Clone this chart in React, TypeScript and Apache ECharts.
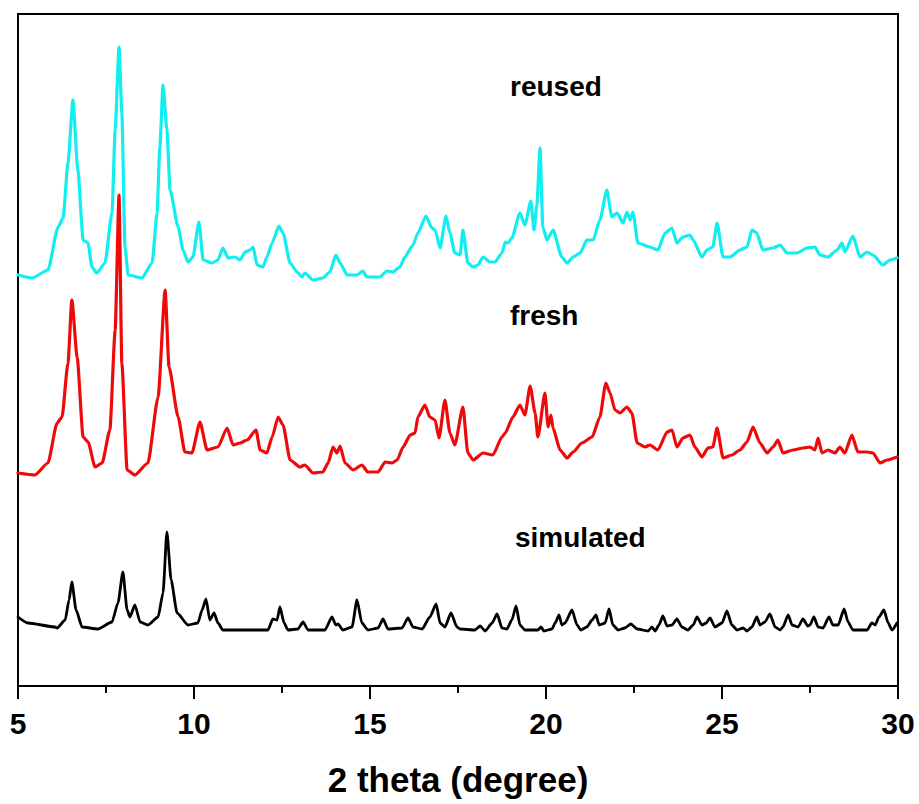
import React, { useEffect, useRef } from "react";
import * as echarts from "echarts";

// 2θ (degree) and intensity (a.u.)
const reusedData: [number, number][] = [
  [5.0, 411], [5.4, 408], [5.85, 416], [6.14, 459], [6.28, 468], [6.42, 523], [6.56, 586], [6.7, 516],
  [6.85, 446], [6.99, 443], [7.1, 419], [7.24, 413], [7.47, 423], [7.67, 473], [7.76, 556], [7.87, 639],
  [7.95, 573], [8.04, 439], [8.13, 411], [8.52, 408], [8.81, 423], [8.95, 473], [9.03, 539], [9.12, 601],
  [9.23, 556], [9.32, 496], [9.55, 459], [9.69, 436], [9.83, 424], [9.97, 429], [10.14, 464], [10.26, 426],
  [10.51, 423], [10.68, 426], [10.82, 438], [10.97, 428], [11.16, 429], [11.31, 426], [11.45, 434], [11.59, 436],
  [11.68, 439], [11.79, 421], [11.96, 419], [12.07, 429], [12.22, 443], [12.41, 460], [12.53, 453], [12.73, 423],
  [12.93, 414], [13.07, 409], [13.15, 413], [13.38, 406], [13.66, 408], [13.86, 414], [14.03, 431], [14.15, 423],
  [14.35, 411], [14.63, 411], [14.8, 415], [14.91, 409], [15.28, 409], [15.48, 415], [15.65, 414], [15.85, 419],
  [15.99, 429], [16.22, 441], [16.36, 453], [16.59, 470], [16.76, 458], [16.85, 456], [16.99, 438], [17.16, 470],
  [17.27, 453], [17.41, 433], [17.56, 431], [17.64, 456], [17.78, 423], [17.93, 419], [18.07, 421], [18.21, 429],
  [18.41, 424], [18.55, 424], [18.75, 433], [18.84, 444], [18.92, 443], [19.03, 448], [19.26, 473], [19.4, 461],
  [19.57, 485], [19.66, 456], [19.74, 481], [19.83, 538], [19.91, 459], [20.03, 446], [20.2, 456], [20.45, 429],
  [20.6, 423], [20.77, 429], [20.97, 433], [21.16, 446], [21.34, 446], [21.53, 466], [21.73, 496], [21.87, 469],
  [22.02, 473], [22.19, 463], [22.3, 474], [22.39, 466], [22.47, 474], [22.61, 443], [22.95, 439], [23.18, 436],
  [23.38, 453], [23.58, 458], [23.72, 443], [23.89, 449], [24.09, 451], [24.18, 446], [24.43, 429], [24.57, 436],
  [24.74, 439], [24.86, 463], [25.03, 429], [25.23, 429], [25.51, 436], [25.71, 439], [25.85, 456], [25.99, 453],
  [26.16, 436], [26.45, 438], [26.65, 441], [26.85, 433], [27.13, 433], [27.41, 438], [27.64, 439], [27.78, 431],
  [28.01, 429], [28.27, 436], [28.41, 443], [28.49, 434], [28.72, 450], [28.92, 429], [29.12, 434], [29.29, 431],
  [29.57, 421], [29.77, 426], [29.97, 428],
];

const freshData: [number, number][] = [
  [5.0, 213], [5.48, 211], [5.85, 223], [6.11, 263], [6.25, 269], [6.42, 323], [6.53, 386], [6.68, 329],
  [6.85, 249], [6.99, 244], [7.19, 219], [7.39, 223], [7.61, 256], [7.76, 356], [7.87, 491], [7.95, 323],
  [8.1, 216], [8.32, 211], [8.69, 223], [8.98, 289], [9.18, 396], [9.29, 319], [9.55, 269], [9.74, 234],
  [9.94, 233], [10.17, 264], [10.37, 236], [10.68, 239], [10.94, 258], [11.11, 241], [11.31, 243], [11.51, 246],
  [11.76, 256], [11.88, 236], [12.07, 233], [12.22, 249], [12.39, 269], [12.53, 261], [12.73, 226], [13.01, 219],
  [13.15, 221], [13.38, 213], [13.66, 214], [13.81, 223], [13.95, 239], [14.06, 233], [14.15, 240], [14.29, 223],
  [14.52, 216], [14.77, 221], [14.94, 214], [15.23, 214], [15.43, 224], [15.63, 223], [15.77, 226], [15.94, 239],
  [16.14, 251], [16.28, 253], [16.36, 269], [16.56, 281], [16.7, 269], [16.85, 266], [16.96, 248], [17.13, 286],
  [17.27, 253], [17.41, 241], [17.64, 279], [17.78, 233], [17.93, 226], [18.21, 233], [18.49, 231], [18.75, 249],
  [18.84, 253], [19.06, 269], [19.26, 281], [19.4, 271], [19.55, 300], [19.69, 273], [19.77, 249], [19.97, 293],
  [20.06, 259], [20.14, 271], [20.2, 258], [20.4, 236], [20.6, 228], [20.77, 234], [21.02, 243], [21.31, 249],
  [21.53, 269], [21.7, 303], [21.82, 293], [21.96, 276], [22.1, 273], [22.3, 279], [22.44, 273], [22.59, 243],
  [22.81, 239], [22.95, 241], [23.18, 236], [23.44, 254], [23.58, 256], [23.72, 239], [23.89, 248], [24.09, 251],
  [24.23, 239], [24.43, 229], [24.6, 238], [24.74, 239], [24.86, 258], [25.03, 228], [25.28, 231], [25.51, 236],
  [25.71, 244], [25.88, 259], [26.08, 243], [26.28, 233], [26.45, 239], [26.59, 246], [26.73, 233], [27.02, 236],
  [27.3, 238], [27.5, 239], [27.64, 236], [27.73, 248], [27.84, 233], [28.01, 236], [28.21, 233], [28.35, 239],
  [28.49, 233], [28.69, 251], [28.86, 234], [29.12, 234], [29.29, 233], [29.49, 223], [29.69, 226], [29.97, 229],
];

const simulatedData: [number, number][] = [
  [5.0, 69], [5.28, 63], [6.05, 59], [6.11, 58], [6.34, 66], [6.45, 86], [6.53, 104], [6.65, 76],
  [6.82, 59], [7.27, 57], [7.67, 64], [7.84, 83], [7.98, 114], [8.1, 76], [8.18, 69], [8.32, 81],
  [8.47, 64], [8.69, 61], [8.98, 69], [9.12, 93], [9.23, 154], [9.35, 106], [9.52, 73], [9.83, 61],
  [10.11, 63], [10.23, 76], [10.34, 87], [10.45, 66], [10.57, 73], [10.68, 63], [10.82, 56], [12.1, 56],
  [12.24, 67], [12.36, 66], [12.44, 79], [12.56, 63], [12.67, 56], [12.95, 57], [13.1, 64], [13.24, 56],
  [13.72, 56], [13.92, 69], [14.03, 61], [14.09, 62], [14.23, 56], [14.49, 59], [14.63, 86], [14.77, 63],
  [14.94, 56], [15.23, 58], [15.37, 67], [15.51, 57], [15.91, 58], [16.08, 68], [16.22, 59], [16.48, 57],
  [16.7, 69], [16.88, 82], [16.99, 63], [17.13, 59], [17.3, 73], [17.47, 59], [17.56, 57], [17.98, 56],
  [18.13, 60], [18.27, 55], [18.47, 63], [18.61, 72], [18.75, 58], [18.89, 57], [19.03, 66], [19.15, 80],
  [19.26, 61], [19.4, 56], [19.77, 56], [19.86, 59], [19.94, 55], [20.17, 57], [20.26, 63], [20.37, 71],
  [20.45, 61], [20.54, 63], [20.74, 76], [20.88, 61], [20.99, 56], [21.16, 59], [21.31, 66], [21.42, 71],
  [21.51, 61], [21.68, 63], [21.79, 77], [21.9, 61], [22.05, 56], [22.24, 58], [22.41, 62], [22.59, 57],
  [22.9, 55], [23.01, 59], [23.1, 55], [23.21, 61], [23.32, 70], [23.44, 60], [23.58, 61], [23.72, 67],
  [23.86, 59], [24.03, 56], [24.18, 61], [24.29, 69], [24.43, 61], [24.55, 63], [24.66, 68], [24.8, 59],
  [25.0, 63], [25.14, 75], [25.28, 61], [25.43, 56], [25.6, 58], [25.71, 55], [25.85, 59], [25.99, 69],
  [26.08, 61], [26.22, 64], [26.36, 72], [26.51, 59], [26.65, 56], [26.73, 59], [26.88, 71], [26.99, 61],
  [27.16, 59], [27.3, 67], [27.44, 60], [27.5, 61], [27.61, 69], [27.73, 59], [27.87, 58], [28.04, 69],
  [28.15, 61], [28.3, 61], [28.47, 77], [28.58, 64], [28.72, 56], [29.12, 56], [29.26, 63], [29.35, 61],
  [29.46, 69], [29.6, 76], [29.72, 63], [29.83, 56], [29.97, 63],
];

const seriesNames = ["reused", "fresh", "simulated"];
const xTicks = [5, 10, 15, 20, 25, 30];
const xAxisTitle = "2 theta (degree)";

const FONT = "'Liberation Sans', Arial, sans-serif";

export default function App() {
  const ref = useRef<HTMLDivElement>(null);

  useEffect(() => {
    if (!ref.current) return;
    const chart = echarts.init(ref.current, undefined, { renderer: "svg" });
    const lineBase = { cap: "round", join: "round" };
    chart.setOption({
      animation: false,
      backgroundColor: "#ffffff",
      grid: {
        left: 18,
        top: 14,
        right: 21,
        bottom: 118,
        show: true,
        borderColor: "#000",
        borderWidth: 2,
        backgroundColor: "transparent",
      },
      xAxis: {
        type: "value",
        min: xTicks[0],
        max: xTicks[xTicks.length - 1],
        interval: 5,
        name: xAxisTitle,
        nameLocation: "middle",
        nameGap: 76,
        nameTextStyle: { fontSize: 35, fontWeight: "bold", color: "#000", fontFamily: FONT },
        axisLine: { show: true, lineStyle: { color: "#000", width: 2 } },
        axisTick: { show: true, length: 13, lineStyle: { color: "#000", width: 2 } },
        minorTick: { show: true, splitNumber: 2, length: 7, lineStyle: { color: "#000", width: 2 } },
        axisLabel: { fontSize: 30, fontWeight: "bold", color: "#000", margin: 22, fontFamily: FONT },
        splitLine: { show: false },
        minorSplitLine: { show: false },
      },
      yAxis: {
        type: "value",
        min: 0,
        max: 672,
        show: false,
        splitLine: { show: false },
      },
      series: [
        {
          name: seriesNames[0],
          type: "line",
          data: reusedData,
          showSymbol: false,
          smooth: 0.2,
          smoothMonotone: "x",
          lineStyle: { color: "#10EEF0", width: 3.2, ...lineBase },
          itemStyle: { color: "#10EEF0" },
        },
        {
          name: seriesNames[1],
          type: "line",
          data: freshData,
          showSymbol: false,
          smooth: 0.2,
          smoothMonotone: "x",
          lineStyle: { color: "#EE0A0A", width: 3.2, ...lineBase },
          itemStyle: { color: "#EE0A0A" },
        },
        {
          name: seriesNames[2],
          type: "line",
          data: simulatedData,
          showSymbol: false,
          smooth: 0.2,
          smoothMonotone: "x",
          lineStyle: { color: "#000000", width: 2.8, ...lineBase },
          itemStyle: { color: "#000000" },
        },
      ],
      graphic: [
        {
          type: "text",
          x: 510,
          y: 86,
          style: { text: seriesNames[0], fontSize: 28, fontWeight: "bold", fill: "#000", fontFamily: FONT, verticalAlign: "middle" },
        },
        {
          type: "text",
          x: 510,
          y: 315,
          style: { text: seriesNames[1], fontSize: 28, fontWeight: "bold", fill: "#000", fontFamily: FONT, verticalAlign: "middle" },
        },
        {
          type: "text",
          x: 515,
          y: 537,
          style: { text: seriesNames[2], fontSize: 28, fontWeight: "bold", fill: "#000", fontFamily: FONT, verticalAlign: "middle" },
        },
      ],
    });
    return () => chart.dispose();
  }, []);

  return (
    <div
      ref={ref}
      style={{ position: "absolute", left: 0, top: 0, width: 919, height: 804, background: "#fff" }}
    />
  );
}
